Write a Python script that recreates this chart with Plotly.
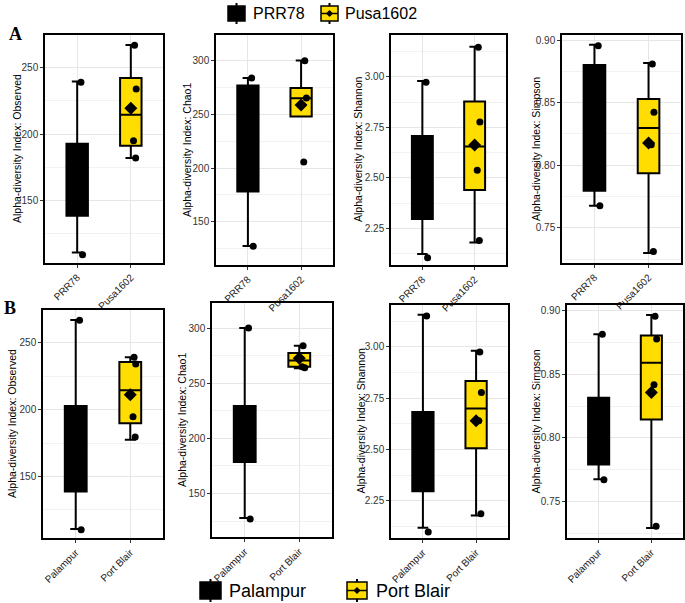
import plotly.graph_objects as go

metrics = ["Observed", "Chao1", "Shannon", "Simpson"]
groups_a = ["PRR78", "Pusa1602"]
groups_b = ["Palampur", "Port Blair"]

# box summaries per metric: [first group, second group]
# A: genotypes
a_low = [[110.6, 182.0], [127.3, 248.0], [2.122, 2.180], [0.7676, 0.7298]]
a_q1 = [[138.4, 191.2], [178.0, 248.0], [2.296, 2.440], [0.7796, 0.7936]]
a_med = [[165.0, 214.6], [240.0, 265.0], [2.500, 2.655], [0.8300, 0.8297]]
a_q3 = [[192.7, 242.2], [277.0, 274.5], [2.707, 2.878], [0.8800, 0.8529]]
a_high = [[239.6, 267.2], [284.0, 300.3], [2.980, 3.150], [0.8963, 0.8816]]
a_mean = [[168.0, 219.4], [228.0, 258.7], [2.500, 2.663], [0.8300, 0.8177]]
a_points = [
    [[239, 109], [267, 234, 195, 182]],
    [[284, 127], [300, 265.2, 205.6]],
    [[2.974, 2.104], [3.147, 2.777, 2.538, 2.19]],
    [[0.8955, 0.7676], [0.8808, 0.8422, 0.8163, 0.731]],
]

# B: locations
b_low = [[110.7, 177.5], [127.9, 263.6], [2.120, 2.179], [0.7677, 0.7295]]
b_q1 = [[138.8, 189.8], [178.5, 265.0], [2.297, 2.506], [0.7792, 0.8144]]
b_med = [[170.0, 214.4], [200.0, 270.6], [2.500, 2.700], [0.8000, 0.8590]]
b_q3 = [[202.7, 235.6], [229.4, 277.3], [2.683, 2.834], [0.8316, 0.8802]]
b_high = [[266.9, 239.0], [300.0, 284.0], [3.156, 2.980], [0.8812, 0.8963]]
b_mean = [[172.0, 211.0], [205.0, 272.7], [2.500, 2.640], [0.8050, 0.8357]]
b_points = [
    [[266.7, 110.2], [239, 234, 194.7, 179.5]],
    [[300, 127], [284, 264, 265]],
    [[3.149, 2.099], [2.974, 2.778, 2.64, 2.188]],
    [[0.8812, 0.7672], [0.8953, 0.8776, 0.8417, 0.7308]],
]

W, H = 685, 603
FONT = "Liberation Sans, Arial, sans-serif"
colors = ["#000000", "#FFDD00"]
jitter = [0.07, 0.1, 0.05, 0.09]

# panel boxes in pixels (left, right, top, bottom)
panels = [(45, 163, 35, 263), (216, 333, 35, 265), (391, 506, 35, 265), (562, 681, 35, 263),
          (43, 163, 310, 538), (212, 332, 303, 537), (391, 508, 305, 538), (567, 683, 305, 538)]
yranges = [[102.7, 274.7], [109.6, 324], [2.068, 3.208], [0.7218, 0.904],
           [104, 274.4], [110.6, 322.7], [2.070, 3.203], [0.7216, 0.9042]]
title_x = [17, 187, 358, 536, 12, 182, 360, 535]
dticks = [50, 50, 0.25, 0.05]
fmts = ["d", "d", ".2f", ".2f"]

fig = go.Figure()
rows = [(groups_a, a_low, a_q1, a_med, a_q3, a_high, a_mean, a_points),
        (groups_b, b_low, b_q1, b_med, b_q3, b_high, b_mean, b_points)]

layout = {}
for r, (groups, low, q1, med, q3, high, mean, pts) in enumerate(rows):
    for m in range(4):
        k = r * 4 + m + 1
        xa, ya = ("x" if k == 1 else f"x{k}"), ("y" if k == 1 else f"y{k}")
        for g in range(2):
            fig.add_trace(go.Box(
                x=[g], q1=[q1[m][g]], median=[med[m][g]], q3=[q3[m][g]],
                lowerfence=[low[m][g]], upperfence=[high[m][g]],
                width=0.4, whiskerwidth=0.5, fillcolor=colors[g],
                line=dict(color="black", width=2), boxpoints=False,
                name=groups[g], showlegend=False,
                xaxis=xa, yaxis=ya, hoverinfo="skip"))
            p = pts[m][g]
            fig.add_trace(go.Scatter(
                x=[g + jitter[i % 4] for i in range(len(p))], y=p, mode="markers",
                marker=dict(color="black", size=7), showlegend=False,
                xaxis=xa, yaxis=ya))
            fig.add_trace(go.Scatter(
                x=[g], y=[mean[m][g]], mode="markers",
                marker=dict(color="black", size=10, symbol="diamond"), showlegend=False,
                xaxis=xa, yaxis=ya))

        x0, x1, t, b = panels[k - 1]
        axis_common = dict(showline=True, mirror=True, linecolor="black", linewidth=1.5,
                           ticks="outside", ticklen=3, tickcolor="#333", zeroline=False,
                           gridcolor="#E6E6E6", gridwidth=1)
        layout["xaxis" if k == 1 else f"xaxis{k}"] = dict(
            axis_common, domain=[x0 / W, x1 / W], anchor=ya, range=[-0.6, 1.6],
            tickvals=[0, 1], ticktext=groups, tickangle=-45,
            tickfont=dict(size=10, color="#222", family=FONT))
        layout["yaxis" if k == 1 else f"yaxis{k}"] = dict(
            axis_common, domain=[1 - b / H, 1 - t / H], anchor=xa, range=yranges[k - 1],
            dtick=dticks[m], tick0=0, tickformat=fmts[m], ticklabelstandoff=0,
            tickfont=dict(size=10, color="#333", family=FONT),
            minor=dict(dtick=dticks[m] / 2, showgrid=True, gridcolor="#F2F2F2", gridwidth=0.8))
        fig.add_annotation(text=f"Alpha-diversity Index: {metrics[m]}", textangle=-90,
                           x=title_x[k - 1] / W, y=1 - (t + b) / 2 / H, xref="paper", yref="paper",
                           xanchor="center", yanchor="middle",
                           showarrow=False, font=dict(size=10.5, color="black", family=FONT))

fig.add_annotation(text="<b>A</b>", x=7 / W, y=1 - 22 / H, xref="paper", yref="paper",
                   xanchor="left", yanchor="top", showarrow=False,
                   font=dict(size=18, family="Liberation Serif, serif", color="black"))
fig.add_annotation(text="<b>B</b>", x=2 / W, y=1 - 296 / H, xref="paper", yref="paper",
                   xanchor="left", yanchor="top", showarrow=False,
                   font=dict(size=18, family="Liberation Serif, serif", color="black"))


# legend keys drawn as little boxplot icons (pixel positions)
def px_shape(kind, x0, y0, x1, y1, **kw):
    fig.add_shape(type=kind, xref="paper", yref="paper", x0=x0 / W, x1=x1 / W,
                  y0=1 - y0 / H, y1=1 - y1 / H, **kw)


def legend_key(x0, x1, y0, y1, fill, label, tx, size):
    cx = (x0 + x1) / 2
    px_shape("line", cx, y0 - 3, cx, y1 + 3, line=dict(color="black", width=2))
    px_shape("rect", x0, y0, x1, y1, fillcolor=fill, line=dict(color="black", width=1.5))
    if fill != "#000000":
        cy = (y0 + y1) / 2
        d = 3.5
        path = (f"M {cx / W} {1 - (cy - d) / H} L {(cx + d) / W} {1 - cy / H} "
                f"L {cx / W} {1 - (cy + d) / H} L {(cx - d) / W} {1 - cy / H} Z")
        fig.add_shape(type="path", path=path, xref="paper", yref="paper",
                      fillcolor="black", line=dict(width=0))
        px_shape("line", x0, cy, x1, cy, line=dict(color="black", width=1.5))
    fig.add_annotation(text=label, x=tx / W, y=1 - (y0 + y1) / 2 / H, xref="paper", yref="paper",
                       xanchor="left", yanchor="middle", showarrow=False,
                       font=dict(size=size, family=FONT, color="black"))


legend_key(228, 245, 6, 21, colors[0], groups_a[0], 251, 16)
legend_key(321, 338, 6, 21, colors[1], groups_a[1], 343, 16)
legend_key(200, 221, 582, 599, colors[0], groups_b[0], 227, 18)
legend_key(347, 367, 582, 599, colors[1], groups_b[1], 374, 18)

fig.update_layout(
    **layout,
    width=W, height=H, margin=dict(l=0, r=0, t=0, b=0, autoexpand=False),
    paper_bgcolor="white", plot_bgcolor="white", showlegend=False,
)

# page body has a default 8px margin; drop it so the figure sits at the corner
fig.write_html("out.html", config={"displayModeBar": False},
               post_script="document.body.style.margin='0';")
